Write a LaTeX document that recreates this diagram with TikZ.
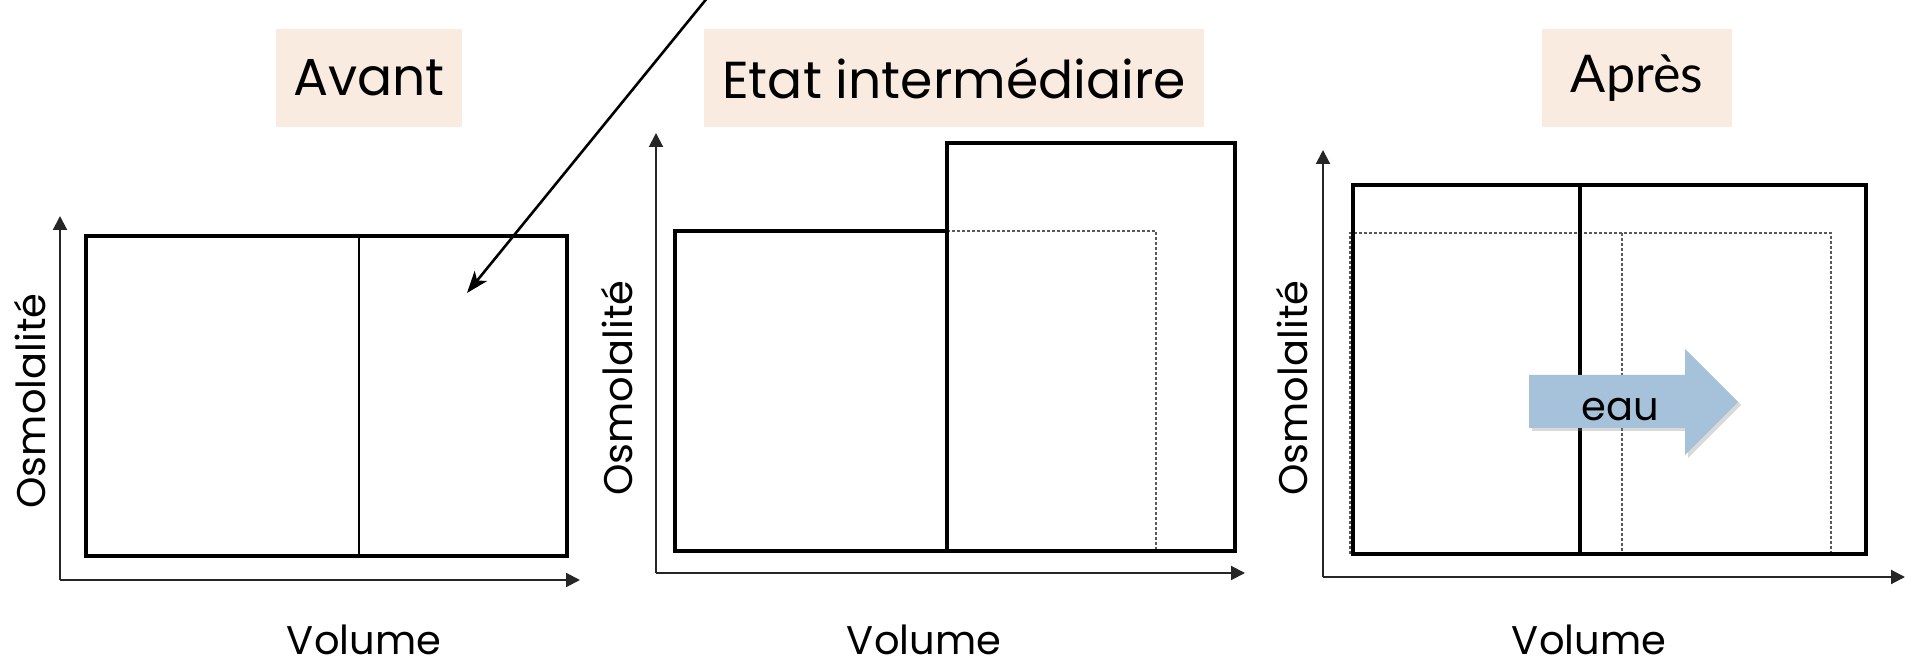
\documentclass[tikz,border=0pt]{standalone}
\usepackage{fontspec}
\setmainfont{Poppins}
\newfontfamily\gillfont{Lato}
\usetikzlibrary{arrows.meta, shadows}
\definecolor{peach}{RGB}{250,235,224}
\definecolor{eaublue}{RGB}{166,194,218}

\begin{document}
\begin{tikzpicture}[
  x=0.5pt, y=-0.5pt,
  every node/.style={font=\fontsize{20}{24}\selectfont},
  ax/.style={black!85, line width=1pt, -{Triangle[length=7pt,width=7pt]}},
  wall/.style={black, line width=1.8pt},
  memb/.style={black, line width=1.4pt},
  old/.style={black!65, line width=0.7pt, dash pattern=on 1.5pt off 1pt},
  title/.style={fill=peach, font=\fontsize{26}{30}\selectfont, minimum height=49pt, inner sep=0pt},
  vol/.style={anchor=base, inner sep=1pt},
]
\useasboundingbox (0,0) rectangle (1906,662);

% Titles
\node[title, minimum width=93pt]  (tA) at (369,78)  {Avant};
\node[title, minimum width=250pt] (tB) at (954,78)  {Etat intermédiaire};
\node[title, minimum width=95pt]  (tC) at (1637,78) {\gillfont Après};

% Axes
\coordinate (oA) at (60,580);   \coordinate (yA) at (60,216);   \coordinate (xA) at (580,580);
\coordinate (oB) at (656,573);  \coordinate (yB) at (656,133);  \coordinate (xB) at (1245,573);
\coordinate (oC) at (1323,577); \coordinate (yC) at (1323,150); \coordinate (xC) at (1905,577);
\foreach \p in {A,B,C} {
  \draw[ax] (o\p) -- (y\p);
  \draw[ax] (o\p) -- (x\p);
}

\node[rotate=90] (osmA) at (30,401)   {Osmolalité};
\node[rotate=90] (osmB) at (617,388)  {Osmolalité};
\node[rotate=90] (osmC) at (1292,388) {Osmolalité};
\node[vol] (volA) at (364,654)  {Volume};
\node[vol] (volB) at (924,654)  {Volume};
\node[vol] (volC) at (1589,654) {Volume};

% Avant
\draw[wall] (86,236) rectangle (567,556);
\draw[memb] (359,236) -- (359,556);

% Etat intermediaire
\draw[old] (947,231) -- (1156,231) -- (1156,551);
\draw[wall] (675,231) rectangle (947,551);
\draw[wall] (947,143) rectangle (1235,551);

% Apres
\draw[old] (1350,554) -- (1350,233) -- (1831,233) -- (1831,554);
\draw[old] (1622,233) -- (1622,554);
\draw[wall] (1353,185) rectangle (1866,554);
\draw[black, line width=2.4pt] (1580,185) -- (1580,554);

\fill[eaublue, drop shadow={opacity=0.3, shadow xshift=1.5pt, shadow yshift=-1.5pt}]
  (1529,375) -- (1685,375) -- (1685,349) -- (1738,402) -- (1685,455) -- (1685,428) -- (1529,428) -- cycle;
\node (eau) at (1620,410) {eau};

% Pointer
\coordinate (top) at (708,-3);
\coordinate (cellB) at (467,293);
\draw[black, line width=1.3pt, -{Stealth[length=11pt,width=8pt,inset=3pt]}] (top) -- (cellB);
\end{tikzpicture}
\end{document}
